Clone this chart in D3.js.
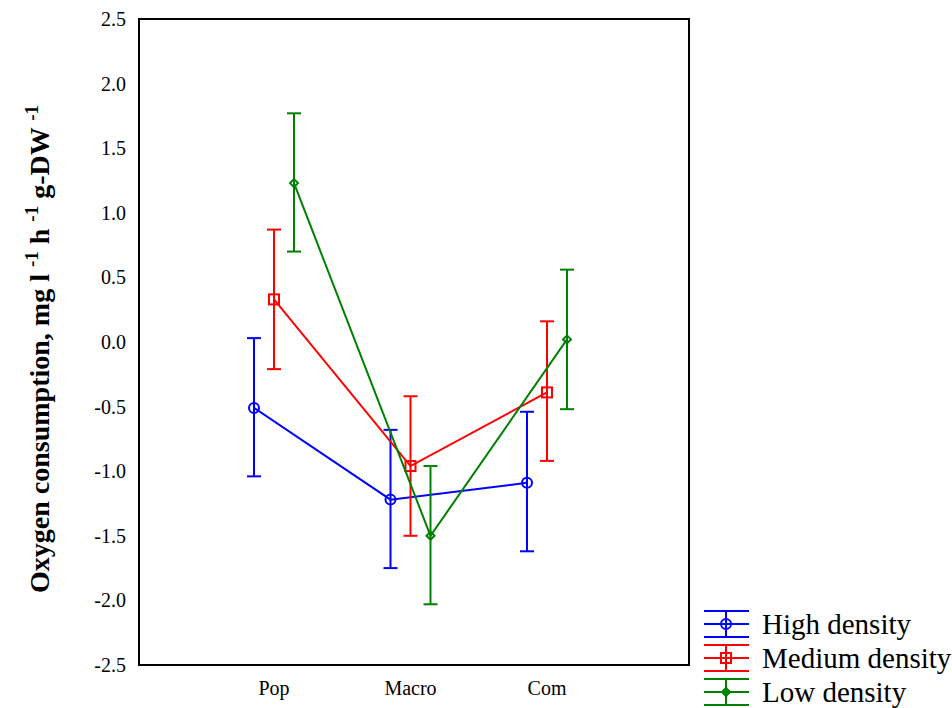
<html>
<head><meta charset="utf-8"></head>
<body style="margin:0;background:#fff">
<svg id="chart" width="952" height="708"></svg>
<script src="https://cdn.jsdelivr.net/npm/d3@7"></script>
<script>
    // data
    let categories = ["Pop", "Macro", "Com"]
    let seriesNames = ["High density", "Medium density", "Low density"]
    let highMean = [-0.51, -1.22, -1.09]
    let highLow = [-1.04, -1.75, -1.62]
    let highHigh = [0.03, -0.68, -0.54]
    let medMean = [0.33, -0.96, -0.39]
    let medLow = [-0.21, -1.50, -0.92]
    let medHigh = [0.87, -0.42, 0.16]
    let lowMean = [1.23, -1.50, 0.02]
    let lowLow = [0.70, -2.03, -0.52]
    let lowHigh = [1.77, -0.96, 0.56]
    let yTicks = [-2.5, -2.0, -1.5, -1.0, -0.5, 0.0, 0.5, 1.0, 1.5, 2.0, 2.5]

    let series = [
        { name: seriesNames[0], mean: highMean, lo: highLow, hi: highHigh, color: "#0000ff", shape: "circle", off: -20 },
        { name: seriesNames[1], mean: medMean, lo: medLow, hi: medHigh, color: "#ff0000", shape: "square", off: 0 },
        { name: seriesNames[2], mean: lowMean, lo: lowLow, hi: lowHigh, color: "#008000", shape: "diamond", off: 20 }
    ]

    let svg = d3.select("#chart")
    let plotLeft = 139, plotRight = 689, plotTop = 19, plotBottom = 665

    let x = d3.scalePoint().domain(categories).range([274, 547])
    let y = d3.scaleLinear().domain([-2.5, 2.5]).range([plotBottom, plotTop])

    // y axis ticks
    let fmt = d3.format(".1f")
    let yAxis = d3.axisLeft(y).tickValues(yTicks).tickSize(0).tickPadding(13)
        .tickFormat(d => fmt(d).replace("\u2212", "-"))
    let yg = svg.append("g").attr("transform", `translate(${plotLeft},0)`).call(yAxis)
    yg.select(".domain").remove()
    yg.selectAll("text").attr("font-family", "Liberation Serif").attr("font-size", 20).attr("fill", "#000")

    // category labels
    svg.selectAll(".cat").data(categories).enter().append("text")
        .attr("x", d => x(d))
        .attr("y", 695)
        .attr("text-anchor", "middle")
        .attr("font-family", "Liberation Serif")
        .attr("font-size", 20)
        .text(d => d)

    // frame
    svg.append("rect")
        .attr("x", plotLeft).attr("y", plotTop)
        .attr("width", plotRight - plotLeft).attr("height", plotBottom - plotTop)
        .attr("fill", "none").attr("stroke", "#000").attr("stroke-width", 2)

    function drawMarker(g, shape, color, cx, cy) {
        if (shape == "circle") {
            g.append("circle").attr("cx", cx).attr("cy", cy).attr("r", 5)
                .attr("fill", "none").attr("stroke", color).attr("stroke-width", 2)
        } else if (shape == "square") {
            g.append("rect").attr("x", cx - 5).attr("y", cy - 5).attr("width", 10).attr("height", 10)
                .attr("fill", "none").attr("stroke", color).attr("stroke-width", 2)
        } else {
            g.append("path").attr("d", `M${cx},${cy - 4}L${cx + 4},${cy}L${cx},${cy + 4}L${cx - 4},${cy}Z`)
                .attr("fill", "none").attr("stroke", color).attr("stroke-width", 2)
        }
    }

    let line = d3.line().x(d => d[0]).y(d => d[1])

    series.forEach(s => {
        let g = svg.append("g")
        let pts = s.mean.map((m, i) => [x(categories[i]) + s.off, y(m)])
        g.append("path").attr("d", line(pts))
            .attr("fill", "none").attr("stroke", s.color).attr("stroke-width", 2)
        s.mean.forEach((m, i) => {
            let cx = x(categories[i]) + s.off
            g.append("line").attr("x1", cx).attr("x2", cx).attr("y1", y(s.lo[i])).attr("y2", y(s.hi[i]))
                .attr("stroke", s.color).attr("stroke-width", 2)
            ;[s.lo[i], s.hi[i]].forEach(v => {
                g.append("line").attr("x1", cx - 7).attr("x2", cx + 7).attr("y1", y(v)).attr("y2", y(v))
                    .attr("stroke", s.color).attr("stroke-width", 2)
            })
            drawMarker(g, s.shape, s.color, cx, y(m))
        })
    })

    // legend
    let legend = svg.append("g")
    series.forEach((s, i) => {
        let cy = 624 + i * 34
        let g = legend.append("g")
        ;[-13, 0, 13].forEach(dy => {
            g.append("line").attr("x1", 704).attr("x2", 749).attr("y1", cy + dy).attr("y2", cy + dy)
                .attr("stroke", s.color).attr("stroke-width", 2)
        })
        g.append("line").attr("x1", 726).attr("x2", 726).attr("y1", cy - 13).attr("y2", cy + 13)
            .attr("stroke", s.color).attr("stroke-width", 2)
        drawMarker(g, s.shape, s.color, 726, cy)
        g.append("text").attr("x", 762).attr("y", cy + 10)
            .attr("font-family", "Liberation Serif").attr("font-size", 29)
            .text(s.name)
    })

    // y axis title
    let title = svg.append("text")
        .attr("transform", "translate(49,349) rotate(-90)")
        .attr("text-anchor", "middle")
        .attr("font-family", "Liberation Serif")
        .attr("font-weight", "bold")
        .attr("font-size", 28)
    title.append("tspan").text("Oxygen consumption, mg l ")
    title.append("tspan").attr("font-size", 19).attr("dy", -11).text("-1")
    title.append("tspan").attr("dy", 11).text(" h ")
    title.append("tspan").attr("font-size", 19).attr("dy", -11).text("-1")
    title.append("tspan").attr("dy", 11).text(" g-DW ")
    title.append("tspan").attr("font-size", 19).attr("dy", -11).text("-1")
</script>
</body>
</html>
